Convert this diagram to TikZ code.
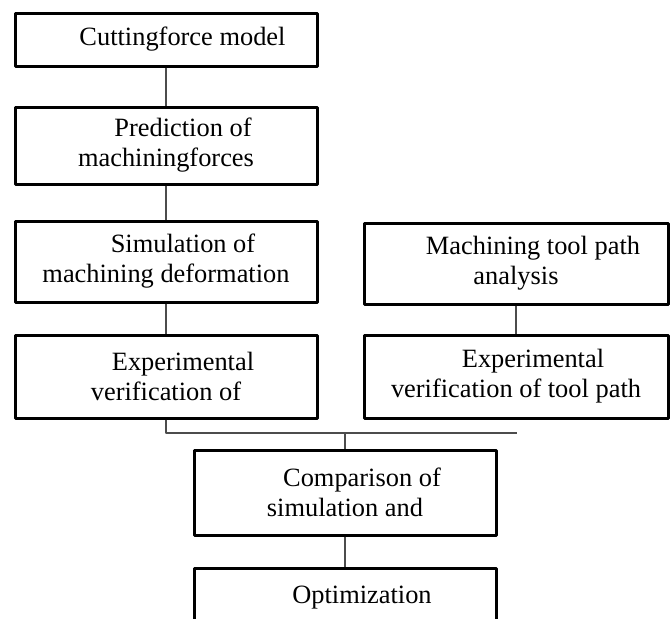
\documentclass[tikz,border=0pt]{standalone}
\usepackage{fontspec}
\setmainfont{Liberation Serif}
\begin{document}
\begin{tikzpicture}[x=0.5pt,y=-0.5pt,line join=round,
		box/.style={draw,line width=1.5pt,minimum width=151pt,align=center,inner sep=0pt,font=\fontsize{13.2}{15}\selectfont},
		link/.style={draw=black!70,line width=0.75pt}]
			\path[use as bounding box,clip] (0,0) rectangle (670,618);
			% left column
			\node[box,minimum height=26.5pt] (force) at (166,39.5) {\hspace*{16.5pt}Cuttingforce model};
			\node[box,minimum height=38.5pt] (predict) at (166,145.5) {\hspace*{17pt}Prediction of\\machiningforces};
			\node[box,minimum height=40.5pt] (simul) at (166,261.5) {\hspace*{17pt}Simulation of\\machining deformation};
			\node[box,minimum height=41.5pt] (verif) at (166,376.5) {\hspace*{17pt}Experimental\\verification of};
			% right column
			\node[box,minimum width=152pt,minimum height=40.5pt] (path) at (516,263.5) {\hspace*{17pt}Machining tool path\\analysis};
			\node[box,minimum width=152pt,minimum height=41.5pt] (pathverif) at (516,376.5) {\hspace*{17pt}Experimental\\verification of tool path};
			% bottom
			\node[box,minimum height=42.5pt] (compare) at (345,492.5) {\hspace*{17pt}Comparison of\\simulation and};
			\node[box,minimum height=30pt] (optim) at (345,598) {\hspace*{17pt}Optimization};
			\draw[link] (force) -- (predict);
			\draw[link] (predict) -- (simul);
			\draw[link] (simul) -- (verif);
			\draw[link] (path) -- (pathverif);
			\coordinate (jr) at (517,433);
			\draw[link] (verif.south) |- (jr);
			\draw[link] (compare.north) -- (compare.north |- jr);
			\draw[link] (compare) -- (optim);
		\end{tikzpicture}
\end{document}
